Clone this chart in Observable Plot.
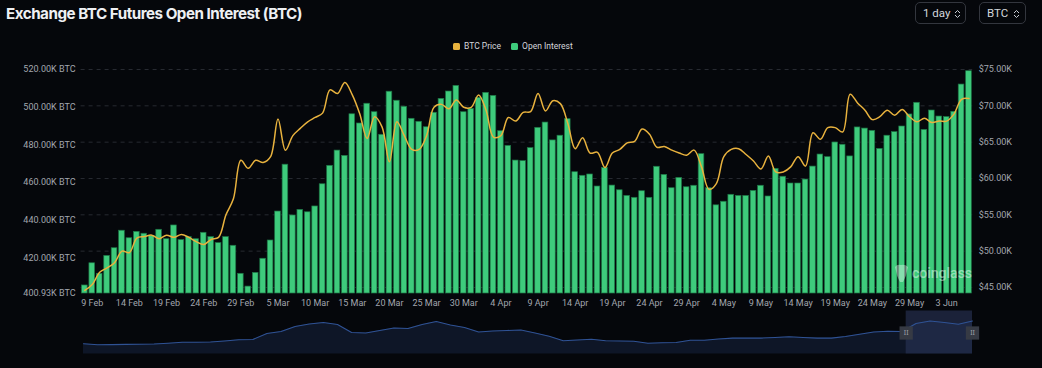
<!DOCTYPE html>
<html>
<head>
<meta charset="utf-8">
<script src="https://cdn.jsdelivr.net/npm/d3@7"></script>
<script src="https://cdn.jsdelivr.net/npm/@observablehq/plot@0.6"></script>
<style>
  html, body { margin: 0; padding: 0; background: #05070b; width: 1042px; height: 368px; overflow: hidden; }
  body { position: relative; font-family: Inter, Roboto, sans-serif; }
  #title { position: absolute; left: 6px; top: 4px; font-size: 15.2px; font-weight: 700; color: #eef0f3; letter-spacing: -0.5px; white-space: nowrap; }
  .sel { position: absolute; top: 2px; height: 22px; border: 1px solid #33363e; border-radius: 5px; color: #d3d6dc; font-size: 11.5px; font-family: Roboto, sans-serif; display: flex; align-items: center; box-sizing: border-box; padding-left: 7px; }
  .sel svg { position: absolute; top: 6px; }
  #legend { position: absolute; left: 453px; top: 41px; display: flex; align-items: center; font-size: 8.5px; font-family: Roboto, sans-serif; color: #d4d6db; white-space: nowrap; }
  .sw { width: 7px; height: 7px; border-radius: 1.5px; display: inline-block; margin-right: 4px; }
  #main { position: absolute; left: 0; top: 60px; }
  #mini { position: absolute; left: 0; top: 308px; }
  #wm { position: absolute; left: 893px; top: 263px; display: flex; align-items: center; color: rgba(255,255,255,0.45); font-family: Roboto, sans-serif; font-size: 14px; font-weight: 500; letter-spacing: 0px; }
</style>
</head>
<body>
<div id="title">Exchange BTC Futures Open Interest (BTC)</div>
<div class="sel" style="left:915px;width:51px;">1 day<svg width="7" height="10" style="left:38px"><path d="M1 4 L3.5 1.5 L6 4 M1 6 L3.5 8.5 L6 6" stroke="#c8ccd3" stroke-width="1" fill="none"/></svg></div>
<div class="sel" style="left:979px;width:47px;">BTC<svg width="7" height="10" style="left:33px"><path d="M1 4 L3.5 1.5 L6 4 M1 6 L3.5 8.5 L6 6" stroke="#c8ccd3" stroke-width="1" fill="none"/></svg></div>
<div id="legend"><span class="sw" style="background:#e8b23e"></span>BTC Price<span style="width:10px;display:inline-block"></span><span class="sw" style="background:#3ecb7c"></span>Open Interest</div>
<div id="main"></div>
<div id="mini"></div>
<div id="wm"><svg width="16" height="20" style="margin-right:3px"><path d="M2 4 Q4 1 8 2 Q12 1 15 4 L14 8 Q13 14 11 17 L10 19 L7 19 L6 17 Q4 14 3 8 Z" fill="rgba(255,255,255,0.38)"/></svg>coinglass</div>
<script>
// ---- data ----
const startDate = new Date(Date.UTC(2024, 1, 8));
const endDate = new Date(Date.UTC(2024, 5, 7));
const dates = d3.utcDay.range(startDate, endDate); // 8 Feb .. 6 Jun 2024

// Open interest, thousands of BTC
const openInterest = [
  405.2, 417.0, 411.4, 420.9, 425.0, 434.3, 430.3, 433.7, 432.7, 431.6,
  434.8, 429.8, 437.1, 429.3, 430.9, 429.8, 433.2, 430.9, 427.7, 430.9,
  426.3, 411.4, 404.6, 411.9, 419.4, 429.1, 444.5, 469.4, 442.4, 445.4,
  444.1, 447.2, 459.0, 468.8, 476.9, 474.1, 496.2, 491.3, 501.8, 497.3,
  485.3, 508.2, 503.4, 500.2, 493.8, 492.2, 489.3, 497.0, 504.4, 508.3,
  511.3, 497.3, 499.1, 504.9, 507.6, 506.0, 487.2, 479.4, 471.6, 471.3,
  478.2, 489.0, 491.8, 482.3, 484.8, 493.6, 465.4, 463.5, 464.2, 457.8,
  467.7, 458.3, 455.8, 452.8, 451.8, 455.3, 451.8, 468.3, 464.0, 456.9,
  462.4, 457.4, 458.2, 475.0, 456.9, 447.8, 449.7, 453.4, 452.8, 452.8,
  455.5, 458.2, 452.5, 467.2, 463.0, 459.4, 459.4, 461.5, 468.4, 474.8,
  473.4, 481.2, 480.0, 473.8, 489.2, 488.6, 487.4, 477.8, 484.8, 486.7,
  489.7, 496.1, 502.3, 487.9, 498.2, 495.0, 494.7, 497.5, 512.0, 519.1
];

// BTC price, thousands of USD
const btcPrice = [
  44.6, 45.4, 47.1, 47.7, 48.4, 50.0, 49.8, 51.8, 52.0, 52.2,
  51.7, 52.2, 51.9, 52.3, 51.9, 51.3, 50.9, 51.6, 51.9, 55.0,
  57.2, 62.5, 61.4, 62.5, 62.2, 63.0, 68.2, 63.9, 65.9, 66.9,
  67.8, 68.4, 69.0, 72.2, 71.7, 73.2, 71.5, 68.9, 65.5, 68.5,
  67.1, 62.3, 67.8, 65.9, 64.0, 64.0, 65.9, 69.8, 70.2, 69.6,
  70.8, 69.8, 69.8, 71.5, 69.4, 65.7, 65.9, 68.4, 67.9, 69.1,
  69.2, 71.7, 69.3, 70.7, 70.3, 67.6, 64.1, 65.6, 63.5, 63.6,
  61.5, 63.5, 64.0, 64.9, 65.1, 66.8, 66.1, 64.3, 64.4, 63.9,
  63.5, 63.2, 63.9, 61.6, 58.5, 59.3, 63.0, 64.0, 64.1, 63.3,
  62.4, 61.3, 63.1, 60.9, 60.9, 61.6, 63.0, 61.7, 66.3, 65.4,
  67.0, 67.0, 66.4, 71.6, 70.4, 69.4, 68.1, 68.5, 69.4, 68.7,
  69.5, 68.5, 67.8, 68.3, 67.7, 67.9, 67.9, 68.9, 70.9, 71.0
];

const leftTicks = [400.93, 420, 440, 460, 480, 500, 520];
const rightTicks = [45, 50, 55, 60, 65, 70, 75];
const leftDomain = [400.93, 520];
const rightDomain = [44.17, 75];

// overview (slider) series, relative heights
const overview = [
  10.2, 9.2, 9.4, 9.6, 9.8, 10.0, 10.8, 11.8, 11.8, 12.0,
  13.0, 14.2, 14.5, 20.5, 22.5, 27.5, 30.0, 31.5, 29.5, 21.5,
  21.0, 23.5, 26.0, 25.5, 29.5, 32.5, 29.0, 26.5, 22.0, 23.0,
  23.5, 24.0, 21.0, 17.7, 13.2, 14.0, 14.8, 13.2, 13.0, 12.7,
  10.8, 11.2, 11.5, 13.8, 13.8, 15.0, 15.9, 15.9, 15.9, 16.5,
  17.2, 16.5, 15.9, 15.9, 17.5, 19.8, 22.0, 22.8, 22.5, 30.5,
  33.0, 31.5, 29.8, 33.0
];
const overviewWindow = [58.3, 63];

// ---- build ----
const k = (leftDomain[1] - leftDomain[0]) / (rightDomain[1] - rightDomain[0]);
const priceToLeft = p => leftDomain[0] + (p - rightDomain[0]) * k;
const leftToPrice = v => rightDomain[0] + (v - leftDomain[0]) / k;

const data = dates.map((d, i) => ({date: d, oi: openInterest[i], price: priceToLeft(btcPrice[i])}));
const tickDates = dates.filter((d, i) => i % 5 === 1);
const rightPos = rightTicks.map(priceToLeft);
const fmtDate = d3.utcFormat("%-d %b");

const chart = Plot.plot({
  width: 1042,
  height: 250,
  marginTop: 9,
  marginBottom: 17,
  marginLeft: 80.6,
  marginRight: 69.8,
  style: {background: "transparent", color: "#a2a6ae", fontFamily: "Roboto, sans-serif", fontSize: "9px"},
  x: {type: "band", domain: dates, paddingInner: 0.24, paddingOuter: 0.12, axis: null},
  y: {domain: leftDomain, axis: null},
  marks: [
    Plot.ruleY(rightPos, {stroke: "#272a31", strokeDasharray: "4,4"}),
    Plot.barY(data, {x: "date", y1: leftDomain[0], y2: "oi", fill: "#3ecb7c", stroke: "#1d7445", strokeWidth: 0.7}),
    Plot.line(data, {x: "date", y: "price", stroke: "#e8b23e", strokeWidth: 1.5, curve: "catmull-rom"}),
    Plot.axisX(tickDates, {tickSize: 0, tickPadding: 6, tickFormat: fmtDate, fill: "#a2a6ae", label: null}),
    Plot.axisY(leftTicks, {anchor: "left", tickSize: 0, tickPadding: 5.6, tickFormat: d => d.toFixed(2) + "K BTC", fill: "#a2a6ae", label: null}),
    Plot.axisY(rightPos, {anchor: "right", tickSize: 0, tickPadding: 6, tickFormat: d => "$" + leftToPrice(d).toFixed(2) + "K", fill: "#a2a6ae", label: null})
  ]
});
document.getElementById("main").appendChild(chart);

const ov = overview.map((v, i) => ({i, v}));
const mini = Plot.plot({
  width: 1042,
  height: 48,
  marginTop: 3.5,
  marginBottom: 2.5,
  marginLeft: 83,
  marginRight: 70,
  style: {background: "transparent"},
  x: {domain: [0, overview.length - 1], axis: null},
  y: {domain: [0, 42], axis: null},
  marks: [
    Plot.areaY(ov, {x: "i", y: "v", fill: "#0e1627"}),
    Plot.rect([overviewWindow], {x1: d => d[0], x2: d => d[1], y1: 0, y2: 43, fill: "#2a3658", fillOpacity: 0.6}),
    Plot.lineY(ov, {x: "i", y: "v", stroke: "#2f5294", strokeWidth: 1.1}),
    Plot.dot(overviewWindow, {x: d => d, y: 21, symbol: "square", r: 7.5, fill: "#363a44"}),
    Plot.text(overviewWindow, {x: d => d, y: 21, text: () => "II", fill: "#9ea3ad", fontSize: 7})
  ]
});
document.getElementById("mini").appendChild(mini);
</script>
</body>
</html>
